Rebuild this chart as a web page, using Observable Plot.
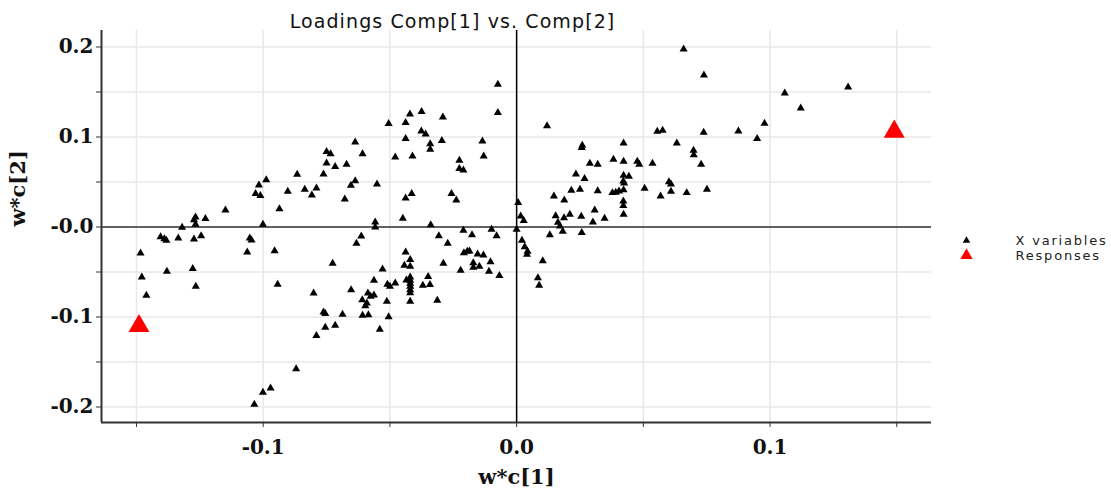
<!DOCTYPE html>
<html><head><meta charset="utf-8">
<script src="https://cdn.jsdelivr.net/npm/d3@7"></script>
<script src="https://cdn.jsdelivr.net/npm/@observablehq/plot@0.6"></script>
<style>
body{margin:0;background:#fff}
#chart{width:1111px;height:497px}
.ttl text{letter-spacing:1.1px}
.lgd text{letter-spacing:1.8px}
.tl text{font-weight:bold}
</style>
</head><body><div id="chart"></div>
<script>
// Loadings of X variables: w*c[1]
const xVarW1 = [-0.0866,-0.0988,-0.1017,-0.1030,-0.1011,-0.0903,-0.1149,-0.0936,-0.1267,-0.1273,-0.1267,-0.1228,-0.1320,-0.1001,-0.1405,-0.1390,-0.1382,-0.1335,-0.1273,-0.1245,-0.1053,-0.1046,-0.1484,-0.1063,-0.0955,-0.1479,-0.1380,-0.1278,-0.1266,-0.0943,-0.1461,-0.0870,-0.0971,-0.1001,-0.1035,
-0.0375,-0.0421,-0.0505,-0.0438,-0.0376,-0.0359,-0.0341,-0.0341,-0.0438,-0.0637,-0.0750,-0.0734,-0.0608,-0.0479,-0.0411,-0.0750,-0.0716,-0.0671,-0.0762,-0.0836,-0.0790,-0.0808,-0.0637,-0.0654,-0.0551,-0.0678,-0.0438,-0.0414,-0.0558,-0.0558,-0.0449,-0.0613,-0.0339,
-0.0632,-0.0438,-0.0420,-0.0443,-0.0420,-0.0726,-0.0529,-0.0349,-0.0563,-0.0420,-0.0435,-0.0420,-0.0420,-0.0420,-0.0420,-0.0420,-0.0510,-0.0500,-0.0479,-0.0370,-0.0342,-0.0801,-0.0653,-0.0587,-0.0576,-0.0563,-0.0609,-0.0591,-0.0597,-0.0512,-0.0420,-0.0762,-0.0755,-0.0687,-0.0608,-0.0585,-0.0505,-0.0755,-0.0716,-0.0540,-0.0790,
-0.0074,-0.0074,-0.0291,-0.0295,-0.0135,-0.0130,-0.0226,-0.0226,-0.0210,-0.0257,-0.0238,0.0006,0.0016,0.0028,0.0000,-0.0307,-0.0210,-0.0176,-0.0099,-0.0079,-0.0272,0.0021,0.0032,0.0043,0.0041,-0.0208,-0.0195,-0.0186,-0.0154,-0.0131,-0.0289,-0.0171,-0.0171,-0.0147,-0.0103,-0.0221,-0.0109,-0.0068,0.0084,0.0089,-0.0313,0.0103,
0.0120,0.0259,0.0257,0.0422,0.0555,0.0576,0.0738,0.0632,0.0698,0.0699,0.0728,0.0289,0.0320,0.0382,0.0422,0.0476,0.0484,0.0536,0.0234,0.0268,0.0422,0.0443,0.0421,0.0424,0.0601,0.0609,0.0216,0.0250,0.0320,0.0378,0.0391,0.0404,0.0422,0.0505,0.0568,0.0609,0.0671,0.0751,0.0147,0.0188,0.0421,0.0421,0.0308,0.0422,0.0154,0.0187,0.0210,0.0255,0.0163,0.0171,0.0182,0.0301,0.0347,0.0131,0.0257,
0.0659,0.0739,0.1058,0.1308,0.1121,0.0978,0.0949,0.0875];
// Loadings of X variables: w*c[2]
const xVarW2 = [0.0583,0.0524,0.0464,0.0369,0.0347,0.0394,0.0187,0.0200,0.0109,0.0078,0.0028,0.0092,-0.0006,0.0028,-0.0111,-0.0133,-0.0150,-0.0124,-0.0136,-0.0100,-0.0124,-0.0147,-0.0291,-0.0280,-0.0267,-0.0558,-0.0494,-0.0464,-0.0661,-0.0639,-0.0761,-0.1576,-0.1791,-0.1839,-0.1972,
0.1280,0.1253,0.1147,0.1158,0.1064,0.1031,0.0924,0.0861,0.0980,0.0942,0.0836,0.0813,0.0813,0.0776,0.0787,0.0709,0.0669,0.0694,0.0587,0.0417,0.0431,0.0353,0.0513,0.0461,0.0476,0.0309,0.0320,0.0369,0.0053,-0.0002,0.0094,-0.0102,0.0022,
-0.0183,-0.0280,-0.0364,-0.0428,-0.0439,-0.0406,-0.0469,-0.0553,-0.0594,-0.0558,-0.0591,-0.0594,-0.0628,-0.0661,-0.0700,-0.0733,-0.0639,-0.0661,-0.0624,-0.0650,-0.0642,-0.0736,-0.0698,-0.0736,-0.0772,-0.0758,-0.0809,-0.0847,-0.0876,-0.0828,-0.0828,-0.0947,-0.0964,-0.0972,-0.0983,-0.0976,-0.0998,-0.1117,-0.1094,-0.1139,-0.1206,
0.1583,0.1269,0.1220,0.0958,0.0953,0.0787,0.0739,0.0647,0.0631,0.0369,0.0298,0.0270,0.0119,0.0069,-0.0028,-0.0098,-0.0039,-0.0087,-0.0028,-0.0098,-0.0183,-0.0148,-0.0220,-0.0272,-0.0306,-0.0287,-0.0272,-0.0269,-0.0302,-0.0313,-0.0406,-0.0398,-0.0450,-0.0439,-0.0387,-0.0483,-0.0494,-0.0542,-0.0567,-0.0650,-0.0817,-0.0376,
0.1124,0.0906,0.0880,0.0931,0.1061,0.1072,0.1050,0.0931,0.0850,0.0802,0.0694,0.0706,0.0694,0.0750,0.0728,0.0728,0.0694,0.0706,0.0587,0.0536,0.0572,0.0561,0.0509,0.0487,0.0502,0.0476,0.0406,0.0417,0.0402,0.0380,0.0383,0.0398,0.0413,0.0428,0.0342,0.0394,0.0380,0.0417,0.0342,0.0298,0.0287,0.0236,0.0187,0.0139,0.0124,0.0102,0.0139,0.0117,0.0050,0.0009,-0.0050,0.0053,0.0094,-0.0087,-0.0064,
0.1976,0.1687,0.1487,0.1553,0.1320,0.1150,0.0980,0.1064];
// Responses
const respW1 = [-0.149, 0.149];
const respW2 = [-0.110, 0.106];

const seriesNames = ["X variables", "Responses"];
const titleText = "Loadings Comp[1] vs. Comp[2]";
const xLabel = "w*c[1]";
const yLabel = "w*c[2]";
const xMajorTicks = [-0.1, 0, 0.1];
const xTickLabels = ["-0.1", "0.0", "0.1"];
const xMinorTicks = [-0.15, -0.05, 0.05, 0.15];
const yMajorTicks = [0.2, 0.1, 0, -0.1, -0.2];
const yTickLabels = ["0.2", "0.1", "-0.0", "-0.1", "-0.2"];
const yMinorTicks = [0.15, 0.05, -0.05, -0.15];
const xDomain = [-0.1638, 0.1637];
const yDomain = [-0.2172, 0.2183];

const xVars = xVarW1.map((w1, i) => ({w1, w2: xVarW2[i]}));
const resps = respW1.map((w1, i) => ({w1, w2: respW2[i]}));

const serif = "'DejaVu Serif', serif";
const sans = "'DejaVu Sans', sans-serif";
const lookup = (ticks, labels) => d => { const i = ticks.findIndex(t => Math.abs(t - d) < 1e-9); return i < 0 ? "" : labels[i]; };

const chart = Plot.plot({
  width: 1111, height: 497,
  marginLeft: 101, marginRight: 180, marginTop: 30, marginBottom: 75,
  x: {domain: xDomain},
  y: {domain: yDomain},
  style: {background: "#fff", overflow: "visible"},
  marks: [
    Plot.gridX(xMinorTicks.concat(xMajorTicks), {stroke: "#e8e8e8", strokeOpacity: 1, strokeWidth: 1.5}),
    Plot.gridY(yMinorTicks.concat(yMajorTicks), {stroke: "#e8e8e8", strokeOpacity: 1, strokeWidth: 1.5}),
    Plot.ruleX([0], {stroke: "#000", strokeWidth: 1.5}),
    Plot.ruleY([0], {stroke: "#333", strokeWidth: 1.5}),
    Plot.ruleX([xDomain[0]], {stroke: "#333", strokeWidth: 2}),
    Plot.ruleY([yDomain[0]], {stroke: "#333", strokeWidth: 2}),
    Plot.axisX(xMajorTicks, {tickFormat: lookup(xMajorTicks, xTickLabels), tickSize: 5, tickPadding: 12, fontSize: 20, fontWeight: "bold", fontFamily: serif, fill: "#111", stroke: "#333", label: null, className: "tl"}),
    Plot.axisX(xMinorTicks, {tickFormat: () => "", tickSize: 5, stroke: "#333", label: null}),
    Plot.axisY(yMajorTicks, {tickFormat: lookup(yMajorTicks, yTickLabels), tickSize: 5, tickPadding: 3, fontSize: 20, fontWeight: "bold", fontFamily: serif, fill: "#111", stroke: "#333", label: null, className: "tl"}),
    Plot.axisY(yMinorTicks, {tickFormat: () => "", tickSize: 5, stroke: "#333", label: null}),
    Plot.dot(xVars, {x: "w1", y: "w2", symbol: "triangle", r: 3, fill: "#000"}),
    Plot.dot(resps, {x: "w1", y: "w2", symbol: "triangle", r: 7.8, fill: "#ff0000"}),
    Plot.text([titleText], {text: d => d, frameAnchor: "top", dx: -64, dy: -16, fontSize: 19, fontFamily: sans, fill: "#111", className: "ttl"}),
    Plot.text([xLabel], {text: d => d, frameAnchor: "bottom", dy: 61, fontSize: 21, fontWeight: "bold", fontFamily: serif, fill: "#111"}),
    Plot.text([yLabel], {text: d => d, frameAnchor: "left", dx: -83, rotate: -90, fontSize: 21, fontWeight: "bold", fontFamily: serif, fill: "#111"}),
    Plot.dot([seriesNames[0]], {frameAnchor: "right", dx: 35, dy: 14, symbol: "triangle", r: 2.8, fill: "#000"}),
    Plot.dot([seriesNames[1]], {frameAnchor: "right", dx: 35, dy: 29, symbol: "triangle", r: 4.6, fill: "#ff0000"}),
    Plot.text([seriesNames[0]], {text: d => d, frameAnchor: "right", dx: 84, dy: 14, textAnchor: "start", fontSize: 13, fontFamily: sans, fill: "#222", className: "lgd"}),
    Plot.text([seriesNames[1]], {text: d => d, frameAnchor: "right", dx: 84, dy: 29, textAnchor: "start", fontSize: 13, fontFamily: sans, fill: "#222", className: "lgd"})
  ]
});
document.getElementById("chart").appendChild(chart);
</script>
</body></html>
